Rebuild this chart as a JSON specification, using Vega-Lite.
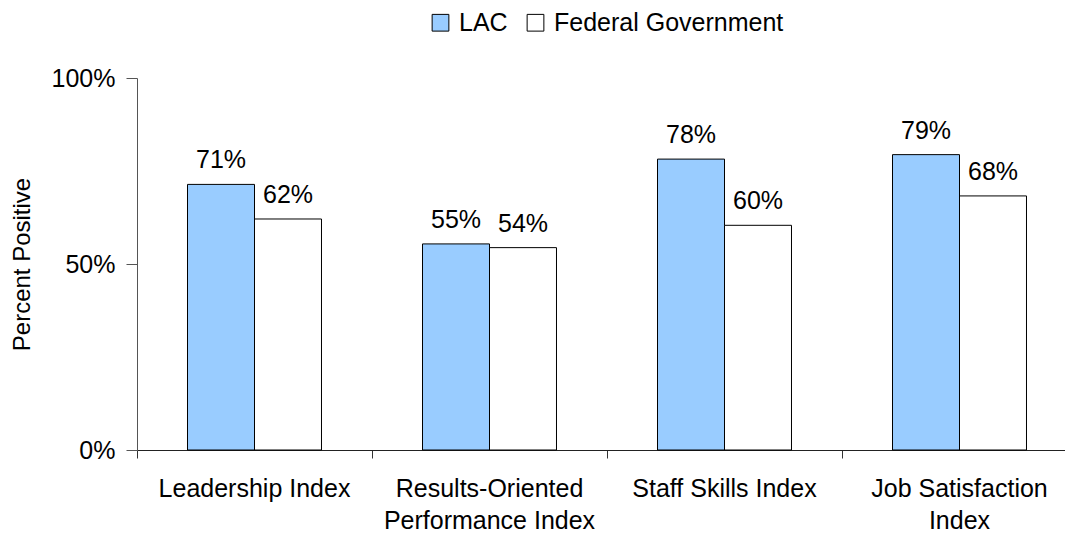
{
  "$schema": "https://vega.github.io/schema/vega-lite/v6.json",
  "autosize": {"type": "none"},
  "width": 940,
  "height": 372,
  "padding": {"left": 137, "top": 78, "right": 0, "bottom": 83},
  "background": "white",
  "config": {
    "view": {"stroke": null},
    "font": "Liberation Sans"
  },
  "data": {
    "values": [
      {"category": "Leadership Index", "group": "LAC", "value": 0.714},
      {"category": "Leadership Index", "group": "Federal Government", "value": 0.621},
      {"category": "Results-Oriented Performance Index", "group": "LAC", "value": 0.554},
      {"category": "Results-Oriented Performance Index", "group": "Federal Government", "value": 0.544},
      {"category": "Staff Skills Index", "group": "LAC", "value": 0.782},
      {"category": "Staff Skills Index", "group": "Federal Government", "value": 0.604},
      {"category": "Job Satisfaction Index", "group": "LAC", "value": 0.794},
      {"category": "Job Satisfaction Index", "group": "Federal Government", "value": 0.683}
    ]
  },
  "encoding": {
    "x": {
      "field": "category",
      "type": "nominal",
      "sort": null,
      "scale": {"paddingInner": 0, "paddingOuter": 0},
      "axis": {
        "title": null,
        "labelAngle": 0,
        "bandPosition": 0,
        "labelFontSize": 25,
        "labelColor": "#000",
        "labelLineHeight": 32,
        "labelPadding": 18,
        "labelBaseline": "top",
        "labelLimit": 300,
        "tickSize": 8,
        "tickColor": "#333",
        "domainColor": "#222",
        "labelExpr": "datum.value == 'Results-Oriented Performance Index' ? ['Results-Oriented', 'Performance Index'] : datum.value == 'Job Satisfaction Index' ? ['Job Satisfaction', 'Index'] : datum.value"
      }
    },
    "xOffset": {
      "field": "group",
      "type": "nominal",
      "sort": ["LAC", "Federal Government"],
      "scale": {"paddingInner": 0, "paddingOuter": 0.754}
    },
    "y": {
      "field": "value",
      "type": "quantitative",
      "scale": {"domain": [0, 1]},
      "axis": {
        "title": "Percent Positive",
        "titleFontSize": 24,
        "titleFontWeight": "normal",
        "titleColor": "#000",
        "titlePadding": 17,
        "values": [0, 0.5, 1],
        "format": ".0%",
        "labelFontSize": 25,
        "labelColor": "#000",
        "labelPadding": 11,
        "tickSize": 11,
        "tickColor": "#555",
        "domainColor": "#555",
        "grid": false
      }
    }
  },
  "layer": [
    {
      "mark": {"type": "bar", "stroke": "#000", "strokeWidth": 1},
      "encoding": {
        "fill": {
          "field": "group",
          "type": "nominal",
          "sort": ["LAC", "Federal Government"],
          "scale": {"domain": ["LAC", "Federal Government"], "range": ["#99CCFF", "#FFFFFF"]},
          "legend": {
            "title": null,
            "orient": "none",
            "direction": "horizontal",
            "legendX": 291,
            "legendY": -68,
            "symbolType": "square",
            "symbolSize": 280,
            "symbolStrokeColor": "#000",
            "symbolStrokeWidth": 1,
            "labelFontSize": 25,
            "labelColor": "#000",
            "labelOffset": 6,
            "labelLimit": 400,
            "columnPadding": 15
          }
        }
      }
    },
    {
      "mark": {"type": "text", "baseline": "alphabetic", "dy": -16, "fontSize": 25, "color": "#000"},
      "encoding": {
        "text": {"field": "value", "type": "quantitative", "format": ".0%"}
      }
    }
  ]
}
